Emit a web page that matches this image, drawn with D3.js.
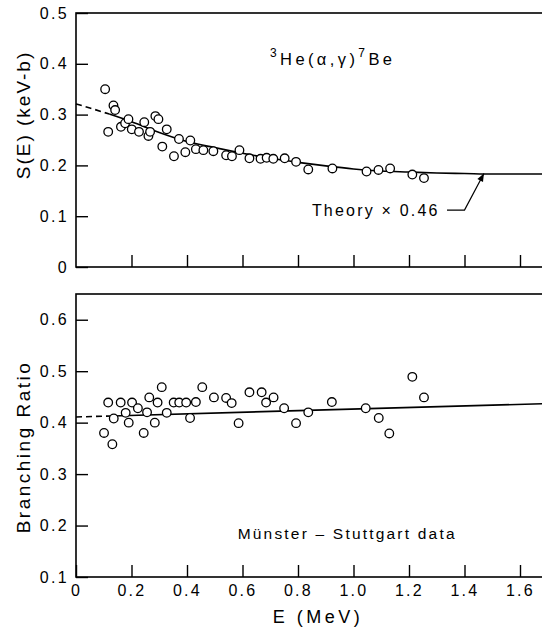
<!DOCTYPE html>
<html>
<head>
<meta charset="utf-8">
<script src="https://cdn.jsdelivr.net/npm/d3@7"></script>
<style>
  html, body { margin: 0; padding: 0; background: #fff; }
  svg { display: block; font-family: "Liberation Sans", Arial, Helvetica, sans-serif; }
</style>
</head>
<body>
<svg id="chart" width="542" height="628"></svg>
<script>
// ---------- DATA ----------
const sE = [0.105,0.116,0.135,0.141,0.162,0.177,0.189,0.201,0.227,0.246,0.261,0.267,0.286,0.297,0.311,0.327,0.353,0.371,0.394,0.412,0.432,0.459,0.495,0.541,0.562,0.589,0.625,0.665,0.687,0.711,0.752,0.793,0.837,0.924,1.047,1.090,1.132,1.212,1.254];
const sVal = [0.350,0.266,0.318,0.309,0.276,0.283,0.291,0.271,0.266,0.285,0.258,0.266,0.297,0.291,0.237,0.271,0.218,0.252,0.226,0.249,0.232,0.230,0.228,0.220,0.218,0.230,0.214,0.213,0.215,0.213,0.214,0.207,0.192,0.194,0.188,0.191,0.194,0.182,0.175];

const theoryE = [0, 0.05, 0.12, 0.2, 0.3, 0.4, 0.5, 0.6, 0.7, 0.8, 0.9, 1.0, 1.1, 1.2, 1.3, 1.4, 1.5, 1.6, 1.7];
const theoryS = [0.321, 0.313, 0.301, 0.286, 0.265, 0.247, 0.235, 0.224, 0.214, 0.206, 0.199, 0.193, 0.189, 0.187, 0.185, 0.184, 0.183, 0.183, 0.183];
const theoryDashedUpTo = 0.12;

const bE = [0.101,0.116,0.131,0.136,0.161,0.179,0.190,0.202,0.223,0.244,0.256,0.264,0.284,0.294,0.309,0.327,0.352,0.372,0.397,0.411,0.432,0.455,0.497,0.541,0.561,0.586,0.625,0.669,0.685,0.712,0.750,0.793,0.837,0.922,1.044,1.091,1.129,1.212,1.254];
const bVal = [0.380,0.439,0.358,0.408,0.439,0.419,0.400,0.439,0.428,0.380,0.420,0.449,0.400,0.439,0.469,0.419,0.439,0.439,0.439,0.409,0.440,0.469,0.449,0.448,0.438,0.399,0.459,0.459,0.439,0.449,0.428,0.399,0.420,0.440,0.428,0.409,0.379,0.489,0.449];

const branchLineE = [0, 0.13, 1.7];
const branchLineR = [0.411, 0.413, 0.437];
const branchDashedUpTo = 0.13;

const xTicks = [0, 0.2, 0.4, 0.6, 0.8, 1.0, 1.2, 1.4, 1.6];
const xTickLabels = ["0", "0.2", "0.4", "0.6", "0.8", "1.0", "1.2", "1.4", "1.6"];
const sTicks = [0, 0.1, 0.2, 0.3, 0.4, 0.5];
const sTickLabels = ["0", "0.1", "0.2", "0.3", "0.4", "0.5"];
const bTicks = [0.1, 0.2, 0.3, 0.4, 0.5, 0.6];
const bTickLabels = ["0.1", "0.2", "0.3", "0.4", "0.5", "0.6"];

// annotation anchors (data units)
const arrowTip = [1.47, 0.184];
const arrowElbow = [1.400, 0.112];
const arrowStart = [1.337, 0.112];
const theoryLabelPos = [0.850, 0.100];
const mLabelEndPos = [1.372, 0.174];

// ---------- CHART ----------
const svg = d3.select("#chart");
const font = '"Liberation Sans", Arial, Helvetica, sans-serif';

const x = d3.scaleLinear().domain([0, 1.7]).range([76, 547.75]);
const yTop = d3.scaleLinear().domain([0, 0.5]).range([267, 13]);
const yBot = d3.scaleLinear().domain([0.1, 0.65]).range([577, 294]);

svg.append("defs").append("marker")
  .attr("id", "arr").attr("viewBox", "0 0 10 10")
  .attr("refX", 10).attr("refY", 5)
  .attr("markerWidth", 10).attr("markerHeight", 8)
  .attr("markerUnits", "userSpaceOnUse")
  .attr("orient", "auto")
  .append("path").attr("d", "M0,1 L10,5 L0,9 Z").attr("fill", "#000");

function frame(y) {
  const [y0, y1] = y.range();
  svg.append("rect")
    .attr("x", x.range()[0]).attr("y", y1)
    .attr("width", x.range()[1] - x.range()[0]).attr("height", y0 - y1)
    .attr("fill", "none").attr("stroke", "#000").attr("stroke-width", 1.6);
}

function styleAxis(g) {
  g.select(".domain").remove();
  g.selectAll(".tick line").attr("stroke", "#000").attr("stroke-width", 1.4);
  g.selectAll(".tick text")
    .attr("fill", "#000")
    .style("font-family", font)
    .style("font-size", "16px")
    .style("letter-spacing", "2.3px");
}

// ---- top panel ----
frame(yTop);
svg.append("g").attr("transform", `translate(${x.range()[0]},0)`)
  .call(d3.axisLeft(yTop).tickValues(sTicks).tickSize(-12).tickPadding(7)
    .tickFormat((d, i) => sTickLabels[i]))
  .call(styleAxis);
svg.append("g").attr("transform", `translate(0,${yTop.range()[0]})`)
  .call(d3.axisBottom(x).tickValues(xTicks.slice(1)).tickSize(-12).tickFormat(""))
  .call(styleAxis);

const theoryPts = theoryE.map((e, i) => [e, theoryS[i]]);
const lineTop = d3.line().x(d => x(d[0])).y(d => yTop(d[1])).curve(d3.curveMonotoneX);
svg.append("path")
  .attr("d", lineTop(theoryPts.filter(d => d[0] <= theoryDashedUpTo)))
  .attr("fill", "none").attr("stroke", "#000").attr("stroke-width", 1.6)
  .attr("stroke-dasharray", "6,4");
svg.append("path")
  .attr("d", lineTop(theoryPts.filter(d => d[0] >= theoryDashedUpTo)))
  .attr("fill", "none").attr("stroke", "#000").attr("stroke-width", 1.6);

svg.append("g").selectAll("circle").data(sE).join("circle")
  .attr("cx", d => x(d)).attr("cy", (d, i) => yTop(sVal[i]))
  .attr("r", 4.3).attr("fill", "#fff").attr("stroke", "#000").attr("stroke-width", 1.3);

// title
const t = svg.append("text").attr("x", 270).attr("y", 65)
  .style("font-family", font).style("font-size", "16.5px").style("letter-spacing", "3.4px");
t.append("tspan").text("3").attr("dy", "-8").style("font-size", "12px");
t.append("tspan").text("He(α,γ)").attr("dy", "8");
t.append("tspan").text("7").attr("dy", "-8").style("font-size", "12px");
t.append("tspan").text("Be").attr("dy", "8");

// theory annotation
svg.append("text")
  .attr("x", x(theoryLabelPos[0])).attr("y", yTop(theoryLabelPos[1]))
  .style("font-family", font).style("font-size", "16px").style("letter-spacing", "2.2px")
  .text("Theory × 0.46");
svg.append("path")
  .attr("d", d3.line()([[x(arrowStart[0]), yTop(arrowStart[1])], [x(arrowElbow[0]), yTop(arrowElbow[1])], [x(arrowTip[0]), yTop(arrowTip[1])]]))
  .attr("fill", "none").attr("stroke", "#000").attr("stroke-width", 1.2)
  .attr("marker-end", "url(#arr)");

// y label top
svg.append("text")
  .attr("transform", `translate(30,115) rotate(-90)`)
  .attr("text-anchor", "middle")
  .style("font-family", font).style("font-size", "19px").style("letter-spacing", "2px")
  .text("S(E) (keV-b)");

// ---- bottom panel ----
frame(yBot);
svg.append("g").attr("transform", `translate(${x.range()[0]},0)`)
  .call(d3.axisLeft(yBot).tickValues(bTicks).tickSize(-12).tickPadding(7)
    .tickFormat((d, i) => bTickLabels[i]))
  .call(styleAxis);
svg.append("g").attr("transform", `translate(0,${yBot.range()[0]})`)
  .call(d3.axisBottom(x).tickValues(xTicks).tickSize(-12).tickPadding(8)
    .tickFormat((d, i) => xTickLabels[i]))
  .call(styleAxis);

const branchPts = branchLineE.map((e, i) => [e, branchLineR[i]]);
const lineBot = d3.line().x(d => x(d[0])).y(d => yBot(d[1]));
svg.append("path")
  .attr("d", lineBot(branchPts.filter(d => d[0] <= branchDashedUpTo)))
  .attr("fill", "none").attr("stroke", "#000").attr("stroke-width", 1.6)
  .attr("stroke-dasharray", "6,4");
svg.append("path")
  .attr("d", lineBot(branchPts.filter(d => d[0] >= branchDashedUpTo)))
  .attr("fill", "none").attr("stroke", "#000").attr("stroke-width", 1.6);

svg.append("g").selectAll("circle").data(bE).join("circle")
  .attr("cx", d => x(d)).attr("cy", (d, i) => yBot(bVal[i]))
  .attr("r", 4.3).attr("fill", "#fff").attr("stroke", "#000").attr("stroke-width", 1.3);

svg.append("text")
  .attr("x", x(mLabelEndPos[0])).attr("y", yBot(mLabelEndPos[1]))
  .attr("text-anchor", "end")
  .style("font-family", font).style("font-size", "15.5px").style("letter-spacing", "2.2px")
  .text("Münster – Stuttgart data");

svg.append("text")
  .attr("transform", `translate(30,447) rotate(-90)`)
  .attr("text-anchor", "middle")
  .style("font-family", font).style("font-size", "19px").style("letter-spacing", "2.5px")
  .text("Branching Ratio");

// x label
svg.append("text")
  .attr("x", 318).attr("y", 623).attr("text-anchor", "middle")
  .style("font-family", font).style("font-size", "18px").style("letter-spacing", "3.5px")
  .text("E (MeV)");
</script>
</body>
</html>
